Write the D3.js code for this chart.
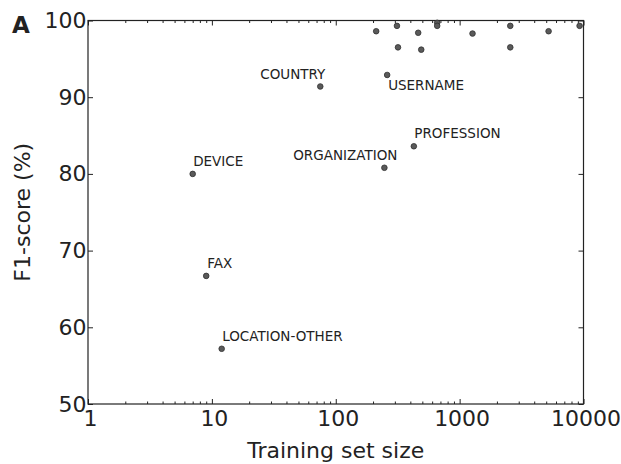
<!DOCTYPE html>
<html>
<head>
<meta charset="utf-8">
<script src="https://cdn.jsdelivr.net/npm/d3@7"></script>
<style>
  html, body { margin: 0; padding: 0; background: #fff; }
  svg { display: block; }
  text { font-family: "DejaVu Sans", sans-serif; fill: #222; }
</style>
</head>
<body>
<svg id="chart" width="621" height="464"></svg>
<script>
// ---- data ----
const entityLabels = ["", "", "", "", "", "", "", "", "", "", "", "",
  "USERNAME", "COUNTRY", "DEVICE", "ORGANIZATION", "PROFESSION", "FAX", "LOCATION-OTHER"];
const trainingSize = [212, 312, 318, 463, 490, 659, 659, 1271, 2564, 2564, 5226, 9300,
  260, 75, 7, 247, 427, 9, 12];
const f1Score = [98.6, 99.3, 96.5, 98.4, 96.2, 99.7, 99.3, 98.3, 99.3, 96.5, 98.6, 99.3,
  92.9, 91.4, 80.0, 80.8, 83.6, 66.7, 57.2];
const xTickValues = [1, 10, 100, 1000, 10000];
const yTickValues = [50, 60, 70, 80, 90, 100];

// ---- layout ----
const svg = d3.select("#chart");
const pLeft = 88, pRight = 583.5, pTop = 20.5, pBottom = 404;
const x = d3.scaleLog().domain([1, 10000]).range([pLeft, pRight]);
const y = d3.scaleLinear().domain([50, 100]).range([pBottom, pTop]);

// label placement (style, not data): [dx, dy, anchor]
const labelPlacement = {
  "USERNAME": [1, 15.5, "start"],
  "COUNTRY": [5, -7, "end"],
  "DEVICE": [0.5, -8, "start"],
  "ORGANIZATION": [13, -8, "end"],
  "PROFESSION": [0.5, -8.5, "start"],
  "FAX": [1, -8, "start"],
  "LOCATION-OTHER": [0.5, -7.5, "start"]
};

// minor tick values
const minorX = [];
for (let d = 1; d < 10000; d *= 10) for (let k = 2; k <= 9; k++) minorX.push(d * k);

const g = svg.append("g");

const tickStyle = sel => {
  sel.select(".domain").remove();
  sel.selectAll("line").attr("stroke", "#222").attr("stroke-width", 1);
};
const labelStyle = sel => sel.selectAll("text")
  .attr("font-size", 22).attr("fill", "#222").attr("font-family", "DejaVu Sans");

// bottom
g.append("g").attr("transform", `translate(0,${pBottom})`)
  .call(d3.axisBottom(x).tickValues(xTickValues).tickSize(-5).tickPadding(6).tickFormat(d3.format("d")))
  .call(tickStyle).call(labelStyle)
  .call(s => s.selectAll("text").attr("dx", 2));
g.append("g").attr("transform", `translate(0,${pBottom})`)
  .call(d3.axisBottom(x).tickValues(minorX).tickSize(-2.5).tickFormat(""))
  .call(tickStyle);
// top
g.append("g").attr("transform", `translate(0,${pTop})`)
  .call(d3.axisTop(x).tickValues(xTickValues).tickSize(-5).tickFormat(""))
  .call(tickStyle);
g.append("g").attr("transform", `translate(0,${pTop})`)
  .call(d3.axisTop(x).tickValues(minorX).tickSize(-2.5).tickFormat(""))
  .call(tickStyle);
// left
g.append("g").attr("transform", `translate(${pLeft},0)`)
  .call(d3.axisLeft(y).tickValues(yTickValues).tickSize(-5).tickPadding(1.5))
  .call(tickStyle).call(labelStyle);
// right
g.append("g").attr("transform", `translate(${pRight},0)`)
  .call(d3.axisRight(y).tickValues(yTickValues).tickSize(-5).tickFormat(""))
  .call(tickStyle);

// frame
g.append("rect").attr("x", pLeft).attr("y", pTop)
  .attr("width", pRight - pLeft).attr("height", pBottom - pTop)
  .attr("fill", "none").attr("stroke", "#222").attr("stroke-width", 1.2);

// points
const pts = trainingSize.map((v, i) => ({ n: v, f: f1Score[i], label: entityLabels[i] }));
g.selectAll("circle.pt").data(pts).enter().append("circle")
  .attr("class", "pt")
  .attr("cx", d => x(d.n)).attr("cy", d => y(d.f)).attr("r", 2.8)
  .attr("fill", "#5a5a5a").attr("stroke", "#303030").attr("stroke-width", 0.8);

// labels
g.selectAll("text.lbl").data(pts.filter(d => d.label)).enter().append("text")
  .attr("class", "lbl")
  .attr("x", d => x(d.n) + labelPlacement[d.label][0])
  .attr("y", d => y(d.f) + labelPlacement[d.label][1])
  .attr("text-anchor", d => labelPlacement[d.label][2])
  .attr("font-size", 13.5)
  .text(d => d.label);

// axis titles
svg.append("text").attr("x", (pLeft + pRight) / 2).attr("y", 458)
  .attr("text-anchor", "middle").attr("font-size", 22).text("Training set size");
svg.append("text")
  .attr("transform", `translate(29.7,${(pTop + pBottom) / 2}) rotate(-90)`)
  .attr("text-anchor", "middle").attr("font-size", 22).text("F1-score (%)");

// panel letter
svg.append("text").attr("x", 12).attr("y", 33)
  .attr("font-size", 23).attr("font-weight", "bold").attr("fill", "#222").text("A");
</script>
</body>
</html>
